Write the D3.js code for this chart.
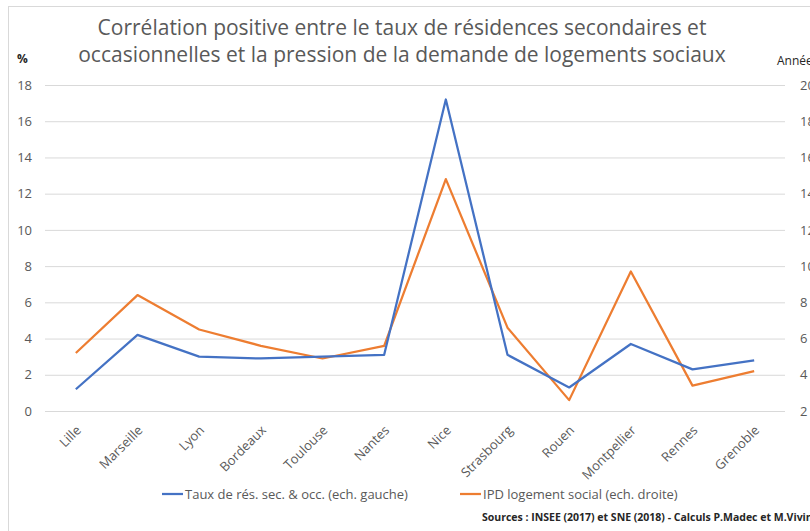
<!DOCTYPE html>
<html>
<head>
<meta charset="utf-8">
<script src="https://cdn.jsdelivr.net/npm/d3@7"></script>
<style>
  body { margin: 0; background: #fff; }
  svg { display: block; font-family: "Open Sans", Lato, sans-serif; }
</style>
</head>
<body>
<svg id="chart"></svg>
<script>
// data
var villes = ['Lille', 'Marseille', 'Lyon', 'Bordeaux', 'Toulouse', 'Nantes',
              'Nice', 'Strasbourg', 'Rouen', 'Montpellier', 'Rennes', 'Grenoble'];
var tauxResSec = [1.2, 4.2, 3.0, 2.9, 3.0, 3.1, 17.2, 3.1, 1.3, 3.7, 2.3, 2.8];
var ipdLogement = [5.2, 8.4, 6.5, 5.6, 4.9, 5.6, 14.8, 6.6, 2.6, 9.7, 3.4, 4.2];
var ticksGauche = [0, 2, 4, 6, 8, 10, 12, 14, 16, 18];
var ticksDroite = [2, 4, 6, 8, 10, 12, 14, 16, 18, 20];

var width = 810;
var height = 531;
var plotLeft = 45, plotRight = 785, plotTop = 85, plotBottom = 411;
var grey = '#595959';
var blue = '#4472C4';
var orange = '#ED7D31';

var svg = d3.select('#chart')
    .attr('width', width)
    .attr('height', height);

// chart frame (cut off on the right and bottom in the source)
svg.append('rect')
    .attr('x', 8.5)
    .attr('y', 6.5)
    .attr('width', 900)
    .attr('height', 600)
    .attr('fill', 'none')
    .attr('stroke', '#d9d9d9');

var xScale = d3.scalePoint()
    .domain(villes)
    .range([plotLeft, plotRight])
    .padding(0.5);

var yLeft = d3.scaleLinear()
    .domain([0, 18])
    .range([plotBottom, plotTop]);

var yRight = d3.scaleLinear()
    .domain([2, 20])
    .range([plotBottom, plotTop]);

// gridlines + left axis
var leftAxis = d3.axisLeft(yLeft)
    .tickValues(ticksGauche)
    .tickSize(-(plotRight - plotLeft))
    .tickPadding(13);

svg.append('g')
    .attr('transform', `translate(${plotLeft},0)`)
    .call(leftAxis)
    .call(g => g.select('.domain').remove())
    .call(g => g.selectAll('line').attr('stroke', '#d9d9d9'))
    .call(g => g.selectAll('text')
        .attr('fill', grey)
        .style('font-family', '"Open Sans", sans-serif')
        .style('font-size', '13px'));

var rightAxis = d3.axisRight(yRight)
    .tickValues(ticksDroite)
    .tickSize(0)
    .tickPadding(15);

svg.append('g')
    .attr('transform', `translate(${plotRight},0)`)
    .call(rightAxis)
    .call(g => g.select('.domain').remove())
    .call(g => g.selectAll('text')
        .attr('fill', grey)
        .style('font-family', '"Open Sans", sans-serif')
        .style('font-size', '13px'));

// category labels
svg.append('g')
  .selectAll('text')
    .data(villes)
    .enter()
    .append('text')
      .attr('transform', d => `translate(${xScale(d) + 6},${plotBottom + 20}) rotate(-45)`)
      .attr('text-anchor', 'end')
      .attr('fill', grey)
      .style('font-size', '13px')
      .text(d => d);

// lines
var lineLeft = d3.line()
    .x((d, i) => xScale(villes[i]))
    .y(d => yLeft(d));

var lineRight = d3.line()
    .x((d, i) => xScale(villes[i]))
    .y(d => yRight(d));

svg.append('path')
    .datum(ipdLogement)
    .attr('d', lineRight)
    .attr('fill', 'none')
    .attr('stroke', orange)
    .attr('stroke-width', 2.25)
    .attr('stroke-linejoin', 'round');

svg.append('path')
    .datum(tauxResSec)
    .attr('d', lineLeft)
    .attr('fill', 'none')
    .attr('stroke', blue)
    .attr('stroke-width', 2.25)
    .attr('stroke-linejoin', 'round');

// title
var title = svg.append('text')
    .attr('text-anchor', 'middle')
    .attr('fill', grey)
    .style('font-size', '21px');

title.append('tspan')
    .attr('x', 402)
    .attr('y', 35)
    .text('Corrélation positive entre le taux de résidences secondaires et');

title.append('tspan')
    .attr('x', 402)
    .attr('y', 62)
    .text('occasionnelles et la pression de la demande de logements sociaux');

// axis units
svg.append('text')
    .attr('x', 17)
    .attr('y', 63)
    .attr('fill', '#262626')
    .style('font-size', '12px')
    .style('font-weight', 'bold')
    .text('%');

svg.append('text')
    .attr('x', 777)
    .attr('y', 65)
    .attr('fill', '#262626')
    .style('font-size', '12px')
    .text('Années');

// legend
var legend = [
    {label: 'Taux de rés. sec. & occ. (ech. gauche)', color: blue, x: 162},
    {label: 'IPD logement social (ech. droite)', color: orange, x: 460}
];

var items = svg.append('g')
  .selectAll('g')
    .data(legend)
    .enter()
    .append('g')
      .attr('transform', d => `translate(${d.x},494)`);

items.append('line')
    .attr('x1', 0)
    .attr('x2', 21)
    .attr('stroke', d => d.color)
    .attr('stroke-width', 2.25);

items.append('text')
    .attr('x', 23)
    .attr('dy', '0.35em')
    .attr('fill', grey)
    .style('font-size', '13px')
    .text(d => d.label);

// sources
svg.append('text')
    .attr('x', 482)
    .attr('y', 521)
    .attr('fill', '#262626')
    .style('font-size', '10.5px')
    .style('font-weight', 'bold')
    .text('Sources : INSEE (2017) et SNE (2018) - Calculs P.Madec et M.Vivinis');
</script>
</body>
</html>
